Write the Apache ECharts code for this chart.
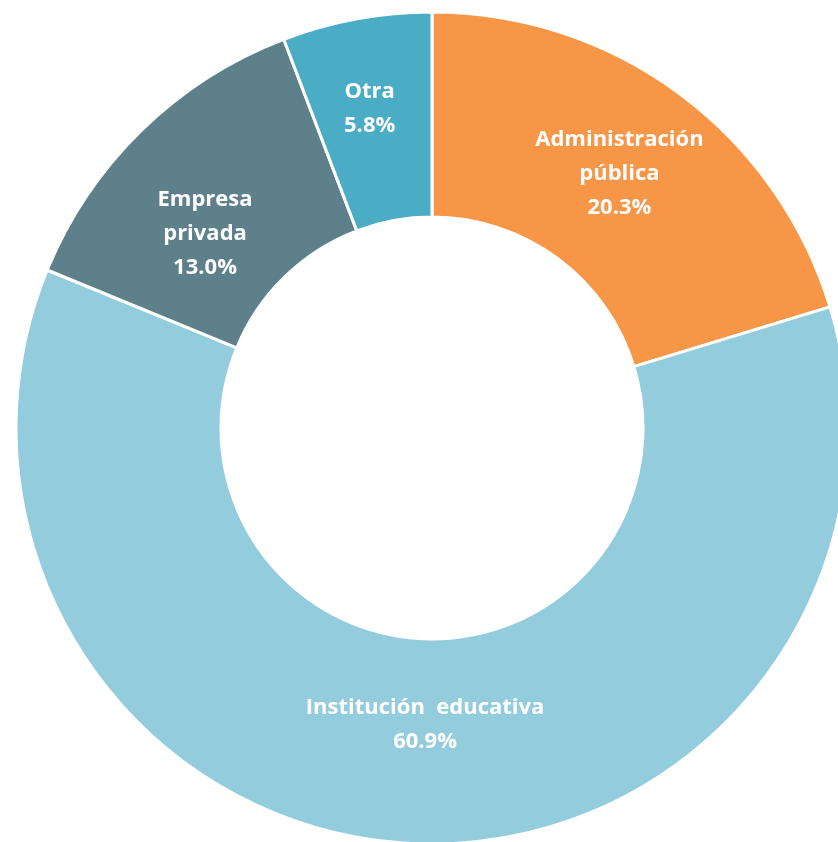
<!DOCTYPE html>
<html>
<head>
<meta charset="utf-8">
<script src="https://cdn.jsdelivr.net/npm/echarts@6/dist/echarts.min.js"></script>
<style>
html,body{margin:0;padding:0;background:#fff;}
#chart{width:838px;height:842px;}
</style>
</head>
<body>
<div id="chart"></div>
<script>
const categories = ['Administración pública', 'Institución educativa', 'Empresa privada', 'Otra'];
const labelNames = ['Administración\npública', 'Institución  educativa', 'Empresa\nprivada', 'Otra'];
const values = [20.3, 60.9, 13.0, 5.8];

// styling
const colors = ['#F79646', '#93CDDD', '#5E808B', '#4BACC6'];
const labelShift = [[-1, 0], [8, -19], [-6, 32], [-5, -8]];

const chart = echarts.init(document.getElementById('chart'));
chart.setOption({
  animation: false,
  series: [{
    type: 'pie',
    center: [432, 428],
    radius: [211, 416],
    startAngle: 90,
    clockwise: true,
    avoidLabelOverlap: false,
    itemStyle: { borderColor: '#ffffff', borderWidth: 3 },
    label: {
      show: true,
      position: 'inside',
      color: '#ffffff',
      fontFamily: 'Open Sans',
      fontWeight: 'bold',
      fontSize: 22,
      lineHeight: 34,
      formatter: p => labelNames[p.dataIndex] + '\n' + values[p.dataIndex].toFixed(1) + '%'
    },
    labelLine: { show: false },
    emphasis: { disabled: true },
    data: categories.map((c, i) => ({
      name: c,
      value: values[i],
      itemStyle: { color: colors[i] },
      label: { offset: labelShift[i] }
    }))
  }]
});
</script>
</body>
</html>
